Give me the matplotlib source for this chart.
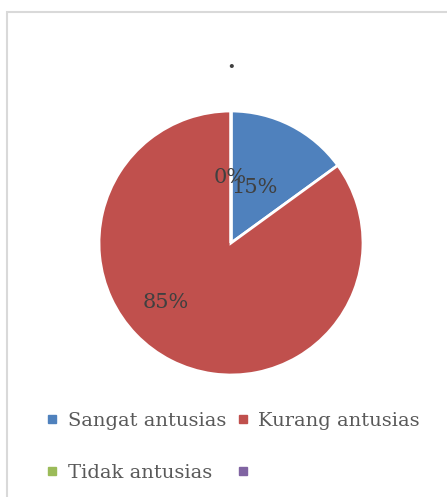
import matplotlib.pyplot as plt
import numpy as np
from matplotlib.lines import Line2D
from matplotlib.patches import Rectangle

# response share per category (percent)
categories = ["Sangat antusias", "Kurang antusias", "Tidak antusias", ""]
values = [15, 85, 0, 0]
pct_labels = ["15%", "85%", "0%", None]
colors = ["#4F81BD", "#C0504D", "#9BBB59", "#8064A2"]

# where excel put the percent labels: (angle deg, fraction of radius)
label_pos = [(67, 0.46), (222, 0.67), (91, 0.50), None]

W, H = 447, 497
fig = plt.figure(figsize=(W / 100, H / 100), dpi=100)
plt.rcParams['font.family'] = ['DejaVu Serif']

# chart frame (cut off at right and bottom, like the screenshot)
fig.patches.append(Rectangle((7 / W, -0.1), 1.2, 1 - 12 / H + 0.1,
                             transform=fig.transFigure, fill=False,
                             edgecolor="#D9D9D9", linewidth=1.5))

cx, cy, r = 231, 243, 132
ax = fig.add_axes([(cx - r) / W, (H - cy - r) / H, 2 * r / W, 2 * r / H])
wedges, _ = ax.pie(values, colors=colors, startangle=90, counterclock=False,
                   wedgeprops=dict(edgecolor="white", linewidth=2))
ax.set_xlim(-1, 1)
ax.set_ylim(-1, 1)
ax.set_aspect("equal")

for lab, pos in zip(pct_labels, label_pos):
    if lab is None:
        continue
    a, d = pos
    ax.text(d * np.cos(np.radians(a)), d * np.sin(np.radians(a)), lab,
            ha="center", va="center", fontsize=15, color="#404040")

fig.text(cx / W, 1 - 62 / H, ".", ha="center", va="center",
         fontsize=16, color="#404040", fontweight="bold")

# legend fills column-wise, so reorder to get row order
order = [0, 2, 1, 3]
handles = [Line2D([], [], marker="s", linestyle="none", markersize=5.5,
                  markerfacecolor=colors[i], markeredgecolor=colors[i]) for i in order]
labels = [categories[i] for i in order]
fig.legend(handles, labels, ncol=2, loc="upper left",
           bbox_to_anchor=(29 / W, 1 - 394 / H), frameon=False,
           fontsize=14, labelcolor="#595959", handlelength=0.6,
           handletextpad=0.5, columnspacing=0.55, labelspacing=1.75)

fig.savefig("out.png", dpi=100)
